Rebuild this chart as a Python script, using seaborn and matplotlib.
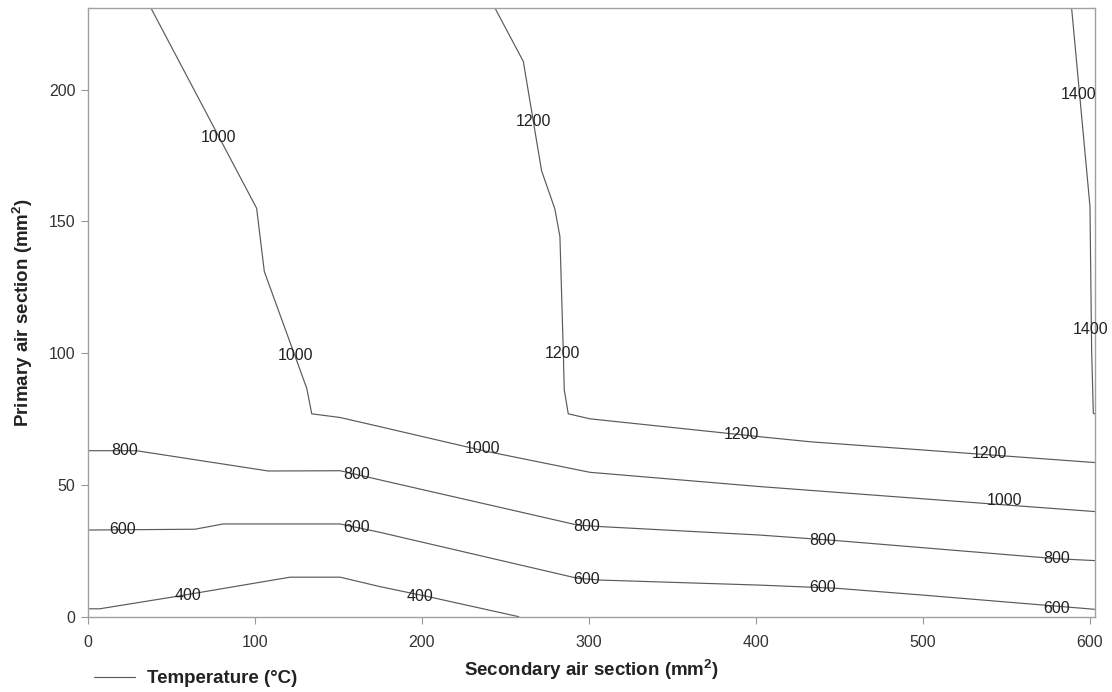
import numpy as np
import pandas as pd
import matplotlib
matplotlib.use("Agg")
import matplotlib.pyplot as plt
from matplotlib.lines import Line2D
import seaborn as sns

# Isotherm polylines: secondary air section (x, mm2) vs primary air section (y, mm2)
t400_x = [0, 7, 52, 121, 151, 175, 206, 258]
t400_y = [3.0, 3.0, 7.6, 15.0, 15.0, 11.4, 7.3, 0.0]

t600_x = [0, 64, 81, 151, 175, 293, 307, 402, 448, 500, 603]
t600_y = [32.9, 33.2, 35.2, 35.2, 32.0, 14.6, 13.9, 12.0, 10.8, 8.2, 2.8]

t800_x = [0, 29, 108, 151, 175, 293, 307, 402, 448, 580, 603]
t800_y = [63.0, 63.0, 55.3, 55.4, 51.9, 34.8, 34.2, 31.0, 28.9, 22.0, 21.3]

t1000_x = [37.7, 101, 105.6, 131, 134, 151, 175, 236.7, 300.6, 402, 522, 603]
t1000_y = [231, 155, 131, 86.7, 77, 75.6, 72.1, 63.0, 54.8, 49.4, 43.7, 39.9]

t1200_x = [243.7, 260.7, 271.6, 279.6, 282.6, 284.6, 285.2, 287.6, 300.6, 402.4, 432.3, 603]
t1200_y = [231, 210.7, 169.3, 154.7, 144.3, 101.3, 86.1, 77.0, 75.1, 68.3, 66.4, 58.5]

t1400_x = [589, 600, 601, 602, 603]
t1400_y = [231, 155.7, 101, 77.2, 77.0]

# Inline contour labels: level, x, y
label_level = [1000, 1000, 1200, 1200, 1400, 1400,
               800, 800, 800, 800, 800,
               600, 600, 600, 600, 600,
               400, 400,
               1000, 1000, 1200, 1200]
label_x = [78, 124, 266.5, 284.4, 593.4, 600.6,
           22, 161, 298.8, 440, 580,
           21, 161, 298.8, 440, 580,
           60, 198.8,
           236.5, 549, 391, 539.5]
label_y = [182, 99, 188, 100, 198, 109,
           63, 54, 34.4, 29, 22,
           33, 33.7, 14.3, 10.9, 3.3,
           8.2, 7.8,
           63.7, 44, 69, 61.8]

x_ticks = [0, 100, 200, 300, 400, 500, 600]
y_ticks = [0, 50, 100, 150, 200]

levels = {400: (t400_x, t400_y), 600: (t600_x, t600_y), 800: (t800_x, t800_y),
          1000: (t1000_x, t1000_y), 1200: (t1200_x, t1200_y), 1400: (t1400_x, t1400_y)}
frames = []
for lev, (xs, ys) in levels.items():
    frames.append(pd.DataFrame({"secondary": xs, "primary": ys, "level": lev,
                                "order": np.arange(len(xs))}))
df = pd.concat(frames, ignore_index=True)

sns.set_style("white")
plt.rcParams["font.family"] = ["Liberation Sans", "DejaVu Sans"]
plt.rcParams["mathtext.fontset"] = "custom"
plt.rcParams["mathtext.bf"] = "Liberation Sans:bold"
plt.rcParams["mathtext.rm"] = "Liberation Sans"

fig = plt.figure(figsize=(11.12, 6.92), dpi=100)
ax = fig.add_axes([0.0791, 0.1088, 0.9056, 0.8796])

line_color = "#5a5a5a"
sns.lineplot(data=df, x="secondary", y="primary", units="level", estimator=None,
             sort=False, color=line_color, linewidth=0.85, ax=ax, legend=False)

for lev, lx, ly in zip(label_level, label_x, label_y):
    ax.text(lx, ly, str(lev), ha="center", va="center", fontsize=11.5,
            color="#222222", clip_on=False, zorder=5)

ax.set_xlim(0, 603)
ax.set_ylim(0, 231)
ax.set_xticks(x_ticks)
ax.set_yticks(y_ticks)
ax.tick_params(axis="both", direction="out", length=5, width=0.8, color="#999999",
               labelsize=11.5, labelcolor="#333333", pad=4)
ax.tick_params(axis="x", pad=8)
ax.xaxis.set_ticks_position("bottom")
ax.yaxis.set_ticks_position("left")
for sp in ax.spines.values():
    sp.set_color("#a0a0a0")
    sp.set_linewidth(1.0)

ax.set_xlabel(r"Secondary air section (mm$\mathbf{^2}$)", fontsize=13.5,
              fontweight="bold", color="#222222", labelpad=6)
ax.set_ylabel(r"Primary air section (mm$\mathbf{^2}$)", fontsize=13.5,
              fontweight="bold", color="#222222", labelpad=10)

handle = Line2D([0], [0], color=line_color, linewidth=0.85)
fig.legend(handles=[handle], labels=["Temperature (°C)"], loc="center left",
           bbox_to_anchor=(0.069, 0.019), frameon=False, handlelength=2.2,
           handletextpad=0.65, prop={"weight": "bold", "size": 13.5},
           labelcolor="#222222")

fig.savefig("out.png", dpi=100)
